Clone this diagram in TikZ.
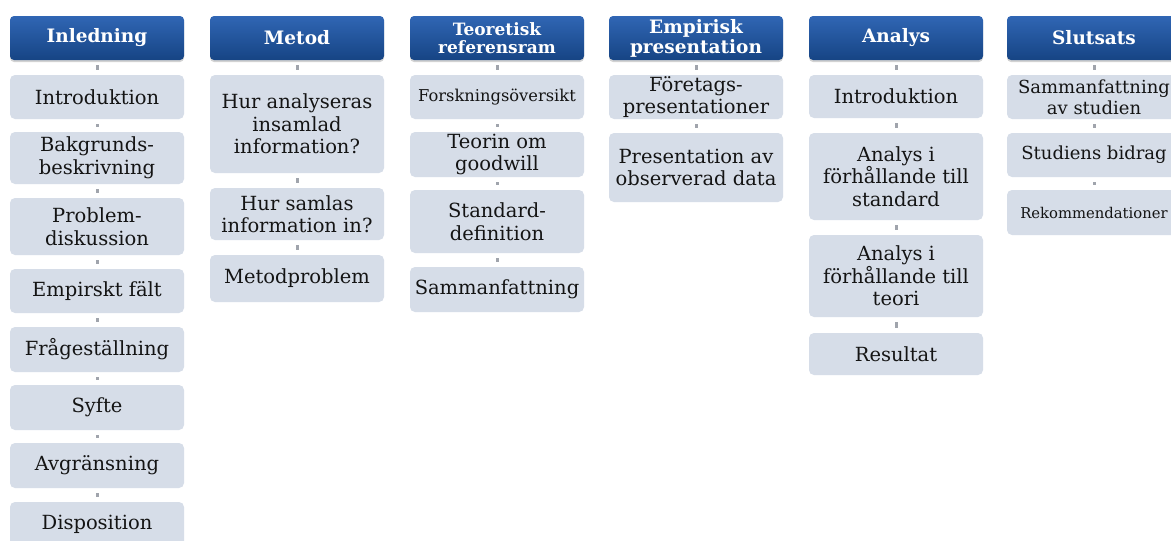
\documentclass[tikz,border=0pt]{standalone}
\usepackage{fontspec}
\setmainfont{DejaVu Serif}
\usetikzlibrary{shadows}
\definecolor{headtop}{RGB}{48,102,180}
\definecolor{headmid}{RGB}{50,114,198}
\definecolor{headbot}{RGB}{22,68,132}
\definecolor{itemfill}{RGB}{214,221,232}
\definecolor{dotgray}{RGB}{160,164,172}

\begin{document}
\begin{tikzpicture}[x=1pt,y=-1pt,
	head/.style={rounded corners=4pt,top color=headtop,middle color=headmid,bottom color=headbot,minimum width=174pt,minimum height=44pt,text=white,font=\fontsize{18.5}{20}\selectfont\bfseries,align=center,inner sep=1pt,drop shadow={opacity=0.35,shadow xshift=0pt,shadow yshift=-2pt}},
	item/.style={rounded corners=5pt,fill=itemfill,minimum width=174pt,text=black!92,font=\fontsize{19.5}{22.5}\selectfont,align=center,inner sep=1pt},
	conn/.style={dotgray,line width=3pt,shorten <=5pt,shorten >=5pt}]
		\useasboundingbox[fill=white](0,0) rectangle (1171,541);
		% rubriker
		\node[head] (h1) at (97,38) {Inledning};
		\node[head] (h2) at (297,38) {Metod};
		\node[head,font=\fontsize{17}{18}\selectfont\bfseries] (h3) at (497,38) {Teoretisk\\referensram};
		\node[head,font=\fontsize{18.5}{20}\selectfont\bfseries] (h4) at (696,38) {Empirisk\\presentation};
		\node[head] (h5) at (896,38) {Analys};
		\node[head] (h6) at (1094,38) {Slutsats};
		% Inledning
		\node[item,minimum height=44pt] (a1) at (97,97) {Introduktion};
		\node[item,minimum height=52pt] (a2) at (97,158) {Bakgrunds-\\beskrivning};
		\node[item,minimum height=57pt] (a3) at (97,226.5) {Problem-\\diskussion};
		\node[item,minimum height=44pt] (a4) at (97,291) {Empirskt fält};
		\node[item,minimum height=45pt] (a5) at (97,349.5) {Frågeställning};
		\node[item,minimum height=45pt] (a6) at (97,407.5) {Syfte};
		\node[item,minimum height=45pt] (a7) at (97,465.5) {Avgränsning};
		\node[item,minimum height=44pt] (a8) at (97,524) {Disposition};
		% Metod
		\node[item,minimum height=98pt] (b1) at (297,124) {Hur analyseras\\insamlad\\information?};
		\node[item,minimum height=52pt] (b2) at (297,214) {Hur samlas\\information in?};
		\node[item,minimum height=47pt] (b3) at (297,278.5) {Metodproblem};
		% Teoretisk referensram
		\node[item,minimum height=44pt,font=\fontsize{16.3}{18}\selectfont] (c1) at (497,97) {Forskningsöversikt};
		\node[item,minimum height=45pt] (c2) at (497,154.5) {Teorin om\\goodwill};
		\node[item,minimum height=63pt] (c3) at (497,221.5) {Standard-\\definition};
		\node[item,minimum height=45pt] (c4) at (497,289.5) {Sammanfattning};
		% Empirisk presentation
		\node[item,minimum height=44pt] (d1) at (696,97) {Företags-\\presentationer};
		\node[item,minimum height=69pt] (d2) at (696,167.5) {Presentation av\\observerad data};
		% Analys
		\node[item,minimum height=43pt] (e1) at (896,96.5) {Introduktion};
		\node[item,minimum height=87pt] (e2) at (896,176.5) {Analys i\\förhållande till\\standard};
		\node[item,minimum height=82pt] (e3) at (896,276) {Analys i\\förhållande till\\teori};
		\node[item,minimum height=42pt] (e4) at (896,354) {Resultat};
		% Slutsats
		\node[item,minimum height=44pt,font=\fontsize{18}{21}\selectfont] (f1) at (1094,97) {Sammanfattning\\av studien};
		\node[item,minimum height=44pt,font=\fontsize{18}{21}\selectfont] (f2) at (1094,155) {Studiens bidrag};
		\node[item,minimum height=45pt,font=\fontsize{14.8}{18}\selectfont] (f3) at (1094,212.5) {Rekommendationer};
		% kopplingar
		\foreach \i/\j in {h1/a1,a1/a2,a2/a3,a3/a4,a4/a5,a5/a6,a6/a7,a7/a8,h2/b1,b1/b2,b2/b3,h3/c1,c1/c2,c2/c3,c3/c4,h4/d1,d1/d2,h5/e1,e1/e2,e2/e3,e3/e4,h6/f1,f1/f2,f2/f3}
		\draw[conn](\i)--(\j);
	\end{tikzpicture}
\end{document}
